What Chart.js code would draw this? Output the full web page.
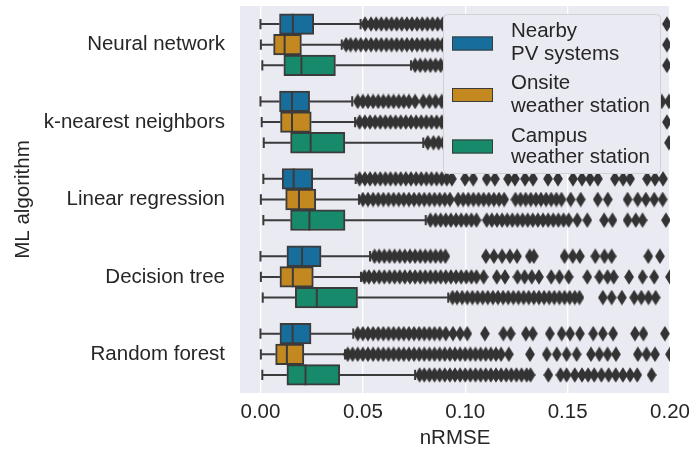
<!DOCTYPE html>
<html>
<head>
<meta charset="utf-8">
<script src="https://cdn.jsdelivr.net/npm/chart.js@4.4.1/dist/chart.umd.min.js"></script>
<style>
html,body{margin:0;padding:0;background:#ffffff;}
#wrap{width:692px;height:455px;position:relative;}
</style>
</head>
<body>
<div id="wrap"><canvas id="c" width="692" height="455"></canvas></div>
<script>
// ---------- data ----------
const categories = ['Neural network', 'k-nearest neighbors', 'Linear regression', 'Decision tree', 'Random forest'];
const seriesLabels = [['Nearby', 'PV systems'], ['Onsite', 'weather station'], ['Campus', 'weather station']];
const xTickValues = [0, 0.05, 0.10, 0.15, 0.20];
const xTickLabels = ['0.00', '0.05', '0.10', '0.15', '0.20'];

const pvLow  = [0.000, 0.000, 0.0014, 0.000, 0.000];
const pvQ1   = [0.0093, 0.0093, 0.0106, 0.0129, 0.0095];
const pvMed  = [0.0158, 0.0154, 0.0162, 0.0203, 0.0157];
const pvQ3   = [0.0260, 0.0240, 0.0255, 0.0296, 0.0247];
const pvHigh = [0.0489, 0.0448, 0.0465, 0.0535, 0.0453];

const onsiteLow  = [0.0002, 0.0006, 0.0002, 0.0002, 0.0002];
const onsiteQ1   = [0.0064, 0.0098, 0.0123, 0.0095, 0.0074];
const onsiteMed  = [0.0118, 0.0154, 0.0188, 0.0158, 0.0129];
const onsiteQ3   = [0.0200, 0.0248, 0.0270, 0.0258, 0.0212];
const onsiteHigh = [0.0397, 0.0462, 0.0481, 0.0491, 0.0413];

const campusLow  = [0.0009, 0.0016, 0.0014, 0.0011, 0.0009];
const campusQ1   = [0.0114, 0.0147, 0.0147, 0.0170, 0.0129];
const campusMed  = [0.0200, 0.0245, 0.0239, 0.0275, 0.0220];
const campusQ3   = [0.0366, 0.0412, 0.0413, 0.0474, 0.0387];
const campusHigh = [0.0735, 0.0795, 0.0807, 0.0917, 0.0755];

// outliers per category (same order as categories)
const pvOutliers = [
  [0.0511,0.054,0.0565,0.059,0.0615,0.064,0.0665,0.069,0.0715,0.074,0.0765,0.079,0.0815,0.084,0.0865,0.089,0.0915,0.1985],
  [0.0475,0.050,0.0525,0.055,0.0575,0.060,0.0625,0.065,0.0675,0.070,0.0725,0.0755,0.0795,0.0825,0.0855,0.0885,0.091,0.196,0.1995],
  [0.0484,0.051,0.0535,0.056,0.0585,0.061,0.0635,0.066,0.0685,0.071,0.0735,0.076,0.0785,0.081,0.0835,0.086,0.0885,0.091,0.0935,0.0999,0.1039,0.1105,0.1145,0.1209,0.1243,0.1292,0.1331,0.1404,0.1453,0.1526,0.157,0.1609,0.1648,0.1731,0.1771,0.1805,0.1888,0.1927,0.1966],
  [0.0557,0.058,0.0605,0.063,0.0655,0.068,0.0705,0.073,0.0755,0.078,0.0805,0.083,0.0855,0.088,0.0903,0.1101,0.114,0.118,0.1218,0.1253,0.1315,0.1335,0.1485,0.1525,0.156,0.1635,0.168,0.1715,0.1894,0.1951],
  [0.0475,0.050,0.0525,0.055,0.0575,0.060,0.0625,0.065,0.0675,0.070,0.0725,0.075,0.0775,0.080,0.0825,0.085,0.0875,0.0905,0.094,0.0975,0.101,0.1096,0.1186,0.1222,0.1296,0.133,0.1413,0.1471,0.1512,0.156,0.1625,0.1672,0.1722,0.1829,0.187,0.1975]
];
const onsiteOutliers = [
  [0.0418,0.044,0.0465,0.049,0.0515,0.054,0.0565,0.059,0.0615,0.064,0.0665,0.069,0.0715,0.074,0.0765,0.079,0.0815,0.084,0.0865,0.089,0.0915,0.1985],
  [0.0484,0.051,0.0535,0.056,0.0585,0.061,0.0635,0.066,0.0685,0.071,0.0735,0.076,0.0785,0.081,0.0835,0.086,0.0885,0.0915,0.1985],
  [0.050,0.0525,0.055,0.0575,0.060,0.0625,0.065,0.0675,0.070,0.0725,0.075,0.0775,0.080,0.0825,0.085,0.0875,0.090,0.0925,0.0965,0.099,0.1015,0.104,0.1065,0.109,0.1115,0.114,0.1165,0.119,0.1245,0.127,0.1295,0.132,0.1345,0.137,0.1395,0.142,0.1445,0.147,0.1515,0.1564,0.1647,0.1696,0.1793,0.1842,0.1882,0.1923,0.1964],
  [0.0508,0.053,0.0555,0.058,0.0605,0.063,0.0655,0.068,0.0705,0.073,0.0755,0.078,0.0805,0.083,0.0855,0.088,0.0905,0.093,0.0955,0.098,0.1005,0.103,0.1055,0.109,0.1154,0.1194,0.1255,0.129,0.1325,0.136,0.142,0.146,0.1505,0.1596,0.1655,0.1695,0.1725,0.180,0.1866,0.1923,0.200],
  [0.0426,0.045,0.0475,0.050,0.0525,0.055,0.0575,0.060,0.0625,0.065,0.0675,0.070,0.0725,0.075,0.0775,0.080,0.0825,0.085,0.0875,0.090,0.0925,0.095,0.0975,0.100,0.1025,0.105,0.1075,0.110,0.1125,0.115,0.1175,0.1213,0.1316,0.1398,0.1447,0.1495,0.1544,0.1614,0.1655,0.1695,0.1736,0.1843,0.1885,0.1927,0.200]
];
const campusOutliers = [
  [0.0755,0.078,0.0805,0.083,0.0855,0.088,0.0905,0.1985],
  [0.0817,0.0845,0.087,0.0895,0.1995],
  [0.083,0.0855,0.088,0.0905,0.093,0.0955,0.098,0.1005,0.103,0.1055,0.1105,0.113,0.1155,0.118,0.1205,0.123,0.1255,0.128,0.1305,0.133,0.1355,0.138,0.1405,0.143,0.1455,0.148,0.1505,0.1547,0.1596,0.1678,0.1719,0.1793,0.1833,0.1866,0.198],
  [0.0938,0.096,0.0985,0.101,0.1035,0.106,0.1085,0.111,0.1135,0.116,0.1185,0.121,0.1235,0.126,0.1285,0.131,0.1335,0.136,0.1385,0.141,0.1435,0.146,0.1485,0.151,0.1535,0.1558,0.1672,0.1715,0.1765,0.1825,0.186,0.1895,0.193],
  [0.0777,0.080,0.0825,0.085,0.0875,0.090,0.0925,0.095,0.0975,0.100,0.1025,0.105,0.1075,0.110,0.1125,0.115,0.1175,0.120,0.1225,0.125,0.1275,0.130,0.1319,0.1406,0.1465,0.1495,0.1535,0.157,0.160,0.163,0.1665,0.170,0.1735,0.177,0.1805,0.184,0.191]
];

// ---------- styles ----------
const fillColors = ['#176d9c', '#c38820', '#168a6a'];
const lineGray = '#3b3b3b';
const flierGray = '#333333';
const groupWidth = 0.8;
const slot = groupWidth / 3;
const offsets = [-slot, 0, slot];
const boxHalf = slot / 2;
const capHalf = slot / 4;

// thin diamond marker
const diamond = document.createElement('canvas');
diamond.width = 10; diamond.height = 16;
(function () {
  const d = diamond.getContext('2d');
  d.fillStyle = flierGray;
  d.beginPath();
  d.moveTo(5, 0.2); d.lineTo(9.9, 8); d.lineTo(5, 15.8); d.lineTo(0.1, 8);
  d.closePath(); d.fill();
})();

const stats = [
  [pvLow, pvQ1, pvMed, pvQ3, pvHigh, pvOutliers],
  [onsiteLow, onsiteQ1, onsiteMed, onsiteQ3, onsiteHigh, onsiteOutliers],
  [campusLow, campusQ1, campusMed, campusQ3, campusHigh, campusOutliers]
];

const datasets = [];
stats.forEach((s, k) => {
  const [lo, q1, med, q3, hi, outs] = s;
  const off = offsets[k];
  datasets.push({
    type: 'bar',
    label: seriesLabels[k].join(' '),
    data: categories.map((c, i) => ({ y: i + off, x: [q1[i], q3[i]] })),
    backgroundColor: fillColors[k],
    borderColor: lineGray,
    borderWidth: 2,
    borderSkipped: false,
    grouped: false,
    barPercentage: 1,
    categoryPercentage: 1,
    order: 3
  });
  const gap = { x: null, y: null };
  const pts = [];
  categories.forEach((c, i) => {
    const y = i + off;
    pts.push({ x: lo[i], y }, { x: q1[i], y }, gap,
             { x: q3[i], y }, { x: hi[i], y }, gap,
             { x: lo[i], y: y - capHalf }, { x: lo[i], y: y + capHalf }, gap,
             { x: hi[i], y: y - capHalf }, { x: hi[i], y: y + capHalf }, gap,
             { x: med[i], y: y - boxHalf }, { x: med[i], y: y + boxHalf }, gap);
  });
  datasets.push({
    type: 'line',
    data: pts,
    borderColor: lineGray,
    borderWidth: 2,
    borderCapStyle: 'butt',
    pointRadius: 0,
    spanGaps: false,
    fill: false,
    tension: 0,
    order: 2
  });
  const opts = [];
  outs.forEach((arr, i) => arr.forEach(v => opts.push({ x: v, y: i + off })));
  datasets.push({
    type: 'scatter',
    data: opts,
    pointStyle: diamond,
    pointRadius: 5,
    pointHoverRadius: 5,
    clip: 0,
    order: 1
  });
});

const bgPlugin = {
  id: 'plotBg',
  beforeDraw(chart) {
    const a = chart.chartArea, ctx = chart.ctx;
    ctx.save();
    ctx.fillStyle = '#eaeaf2';
    ctx.fillRect(a.left, a.top, a.right - a.left, a.bottom - a.top);
    ctx.restore();
  }
};

const legendPlugin = {
  id: 'boxLegend',
  afterDatasetsDraw(chart) {
    const ctx = chart.ctx;
    ctx.save();
    const x0 = 443.5, y0 = 14.5, w = 217, h = 159;
    ctx.beginPath();
    ctx.roundRect(x0, y0, w, h, 4);
    ctx.fillStyle = '#eaeaf2';
    ctx.fill();
    ctx.strokeStyle = '#d0d0d6';
    ctx.lineWidth = 1;
    ctx.stroke();
    const swTop = [36.5, 88, 139.5];
    const base = [[37.3, 59.5], [89, 111.7], [141.7, 163.3]];
    ctx.font = "20.5px 'Liberation Sans', Arial, sans-serif";
    ctx.textBaseline = 'alphabetic';
    ctx.textAlign = 'left';
    for (let k = 0; k < 3; k++) {
      ctx.fillStyle = fillColors[k];
      ctx.fillRect(452, swTop[k], 41, 14);
      ctx.strokeStyle = lineGray;
      ctx.lineWidth = 1;
      ctx.strokeRect(452.5, swTop[k] + 0.5, 40, 13);
      ctx.fillStyle = '#262626';
      ctx.fillText(seriesLabels[k][0], 511, base[k][0]);
      ctx.fillText(seriesLabels[k][1], 511, base[k][1]);
    }
    ctx.restore();
  }
};

Chart.defaults.font.family = "'Liberation Sans', Arial, sans-serif";
Chart.defaults.font.size = 20.5;
Chart.defaults.color = '#262626';

new Chart(document.getElementById('c'), {
  type: 'bar',
  data: { datasets },
  options: {
    indexAxis: 'y',
    responsive: false,
    animation: false,
    events: [],
    layout: { padding: { top: 4, right: 22, bottom: 0, left: 0 } },
    plugins: { legend: { display: false }, tooltip: { enabled: false } },
    scales: {
      x: {
        type: 'linear',
        min: -0.01,
        max: 0.2,
        offset: false,
        grid: { color: '#ffffff', lineWidth: 1.3, drawTicks: false },
        border: { display: false },
        afterBuildTicks: s => { s.ticks = xTickValues.map(v => ({ value: v })); },
        afterFit: s => { s.height = 62; s.paddingLeft = 0; s.paddingRight = 0; },
        ticks: {
          autoSkip: false, maxRotation: 0, padding: 7,
          callback: (v) => xTickLabels[xTickValues.indexOf(v)]
        },
        title: { display: true, text: 'nRMSE', padding: { top: 0, bottom: 4 } }
      },
      y: {
        type: 'linear',
        min: -0.5,
        max: 4.5,
        reverse: true,
        offset: false,
        grid: { display: false, drawTicks: false },
        border: { display: false },
        afterBuildTicks: s => { s.ticks = categories.map((c, i) => ({ value: i })); },
        afterFit: s => { s.width = 240; s.paddingTop = 0; s.paddingBottom = 0; },
        ticks: { autoSkip: false, padding: 15, callback: (v) => categories[v] },
        title: { display: true, text: 'ML algorithm', padding: { top: 11, bottom: 0 } }
      }
    }
  },
  plugins: [bgPlugin, legendPlugin]
});
</script>
</body>
</html>
